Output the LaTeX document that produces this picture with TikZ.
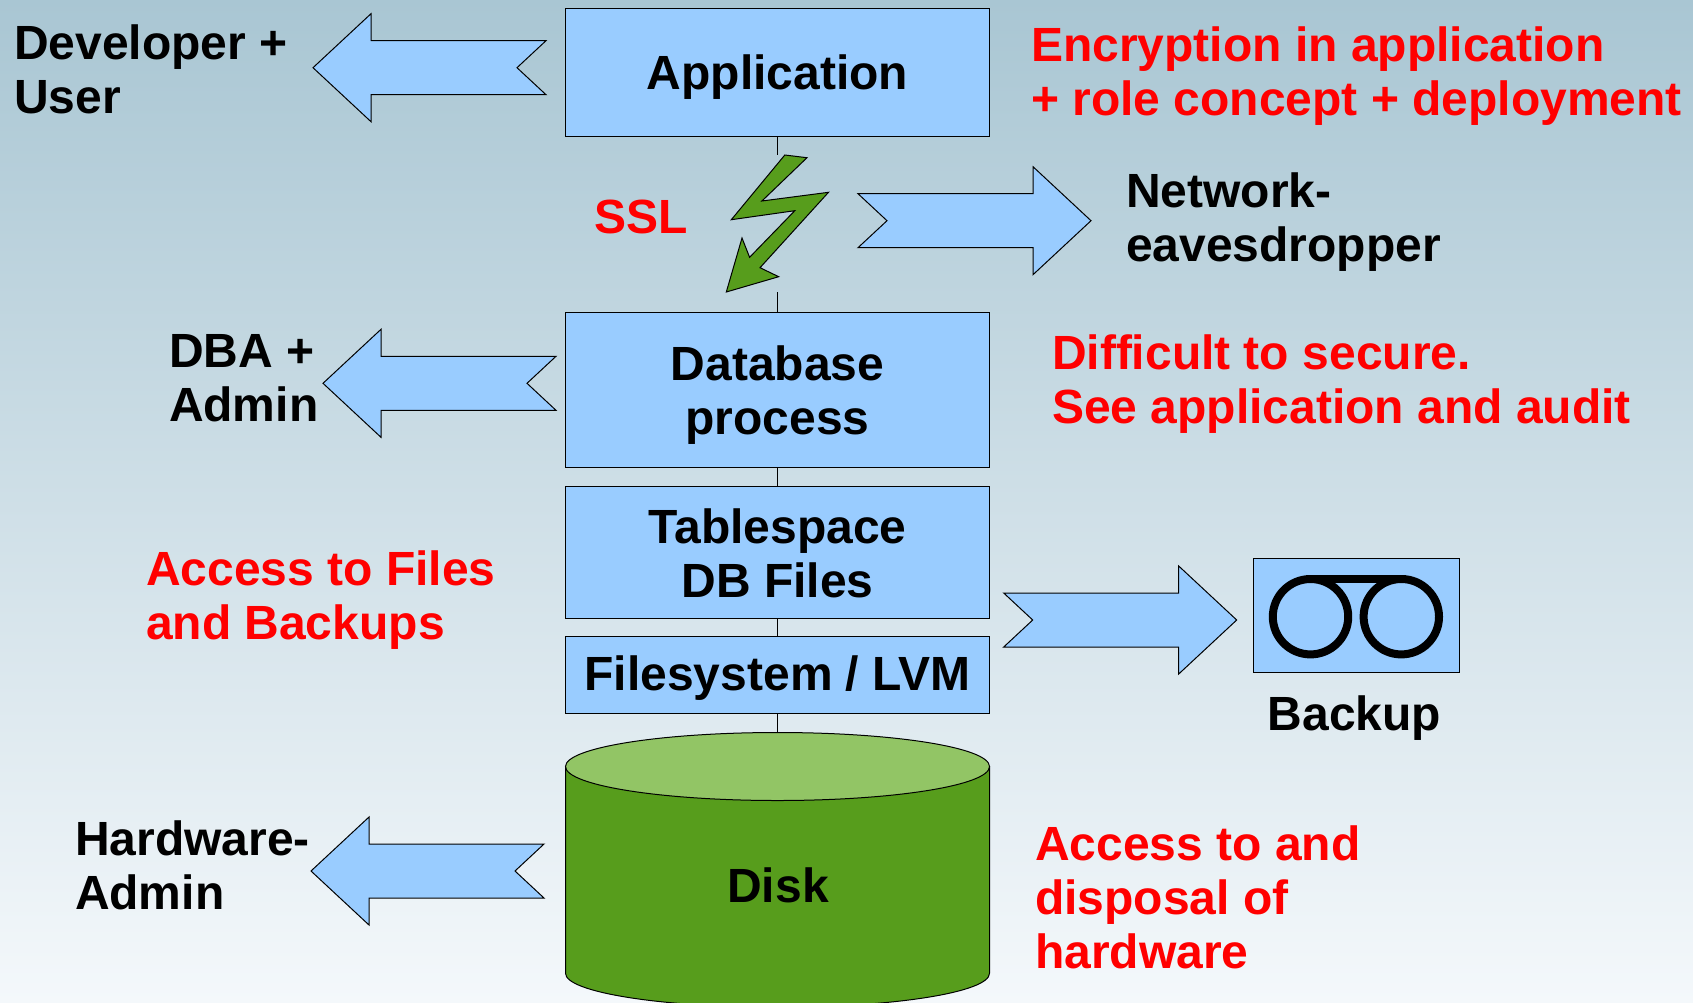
\documentclass[tikz,border=0pt]{standalone}
\usepackage{fontspec}
\setmainfont{Liberation Sans}
\usetikzlibrary{shapes.geometric}
\definecolor{bluefill}{HTML}{99CCFF}
\definecolor{diskgreen}{HTML}{579D1C}
\definecolor{disktopc}{HTML}{92C565}
\definecolor{bgtop}{RGB}{169,198,211}
\definecolor{bgbot}{RGB}{244,248,251}
\newcommand{\linestrut}{\rule[-11pt]{0pt}{54pt}}
\newcommand{\firststrut}[1]{\rule{0pt}{#1pt}}
\tikzset{
  lbl/.style={inner sep=0pt,outer sep=0pt,font=\fontsize{48}{54}\selectfont\bfseries,
    execute at begin node=\linestrut,execute at end node=\linestrut},
  lefttext/.style={lbl,anchor=north west,align=left,black},
  redtext/.style={lefttext,red},
  boxn/.style={lbl,draw=black,fill=bluefill,line width=1pt,minimum width=423.5pt,align=center,text=black},
  fatarrow/.style={draw=black,fill=bluefill,line width=1pt,line join=miter},
  conn/.style={draw=black,line width=1pt},
  disk/.style={draw=black,line width=1pt}
}
% #1 tip x, #2 centre y (points left)
\newcommand{\arrowleft}[2]{\draw[fatarrow] (#1,#2) -- ++(58,-54) -- ++(0,27) -- ++(175,0) -- ++(-29,27) -- ++(29,27) -- ++(-175,0) -- ++(0,27) -- cycle;}
% #1 tip x, #2 centre y (points right)
\newcommand{\arrowright}[2]{\draw[fatarrow] (#1,#2) -- ++(-58,-54) -- ++(0,27) -- ++(-175,0) -- ++(29,27) -- ++(-29,27) -- ++(175,0) -- ++(0,27) -- cycle;}
\begin{document}
\begin{tikzpicture}[x=1pt,y=-1pt]
\useasboundingbox (0,0) rectangle (1693,1002);
\clip (0,0) rectangle (1693,1002);
\shade[top color=bgtop,bottom color=bgbot] (0,0) rectangle (1693,1002);

% stack boxes
\node[boxn,minimum height=128pt] (app) at (777.5,72.6) {\firststrut{44}Application};
\node[boxn,minimum height=155pt] (db) at (777.5,390) {\firststrut{46}Database\\process};
\node[boxn,minimum height=132.5pt] (ts) at (777.5,552.3) {\firststrut{47}Tablespace\\DB Files};
\node[boxn,minimum height=77pt] (fs) at (777.5,674.5) {Filesystem / LVM};

% disk
\draw[disk,fill=diskgreen] (565.5,766.7) -- (565.5,973.3) arc[x radius=212,y radius=34,start angle=180,end angle=0] -- (989.5,766.7) -- cycle;
\node[ellipse,draw=black,line width=1pt,fill=disktopc,minimum width=424pt,minimum height=68pt,inner sep=0pt] (disktop) at (777.5,766.5) {};
\node[lbl,text=black] (disklabel) at (778,886) {Disk};

% connectors
\coordinate (boltin) at (777.5,155);
\coordinate (boltout) at (777.5,292);
\draw[conn] (app.south) -- (boltin);
\draw[conn] (boltout) -- (db.north);
\draw[conn] (db.south) -- (ts.north);
\draw[conn] (ts.south) -- (fs.north);
\draw[conn] (fs.south) -- (disktop.north);

% lightning bolt
\draw[fill=diskgreen,draw=black,line width=1pt] (784.8,155) -- (807,157.7) -- (761.9,201) -- (828.5,192.3) -- (760,267.7) -- (778.7,276.7) -- (726.3,292) -- (742,238) -- (749.6,257.3) -- (794.8,210.7) -- (731.3,219.7) -- cycle;

% fat arrows
\arrowleft{313}{67.7}
\arrowright{1091}{220.7}
\arrowleft{323}{383.3}
\arrowright{1236.7}{620}
\arrowleft{311}{871}

% backup
\node[draw=black,fill=bluefill,line width=1pt,minimum width=206pt,minimum height=113.7pt,inner sep=0pt] (tape) at (1356.5,615.2) {};
\draw[line width=8pt] (1310.5,616.7) circle[radius=37.7];
\draw[line width=8pt] (1401.3,616.7) circle[radius=37.7];
\draw[line width=8pt] (1310.5,579) -- (1401.3,579);
\node[lbl,text=black] (backuplabel) at (1354.5,714) {Backup};

% side texts
\node[lefttext] (devuser) at (14,16.3) {\firststrut{43}Developer +\\User};
\node[lefttext] (dba) at (169,324) {\firststrut{43}DBA +\\Admin};
\node[lefttext] (hw) at (75,812) {\firststrut{43}Hardware-\\Admin};
\node[lefttext] (net) at (1126,164) {\firststrut{43}Network-\\eavesdropper};
\node[redtext] (enc) at (1031,18.5) {\firststrut{43}Encryption in application\\+ role concept + deployment};
\node[redtext] (ssl) at (594.5,190) {SSL};
\node[redtext] (diff) at (1052,326) {\firststrut{43}Difficult to secure.\\See application and audit};
\node[redtext] (files) at (146,542) {\firststrut{43}Access to Files\\and Backups};
\node[redtext] (hwacc) at (1035,817.5) {\firststrut{43}Access to and\\disposal of\\hardware};
\end{tikzpicture}
\end{document}
